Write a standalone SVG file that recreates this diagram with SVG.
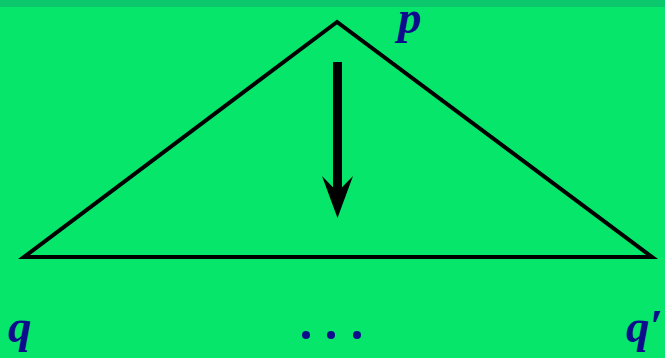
<svg xmlns="http://www.w3.org/2000/svg" width="665" height="358" viewBox="0 0 665 358">
<style>
.lbl{font-family:"Liberation Serif","DejaVu Serif",serif;font-style:italic;font-weight:bold;font-size:47px;fill:#0c0c8c}
.edge{fill:none;stroke:#000;stroke-width:4}
</style>
<rect x="0" y="0" width="665" height="358" fill="#05e66b"/>
<rect x="0" y="0" width="665" height="7" fill="#0cc86c"/>
<g id="triangle">
<polygon class="edge" points="337,22 24,257 652,257"/>
</g>
<g id="connectors">
<rect x="333" y="62" width="9" height="130" fill="#000"/>
<polygon points="322,176 337.5,192 353,176 337.5,218" fill="#000"/>
</g>
<g id="node-p"><text class="lbl" x="398" y="33">p</text></g>
<g id="node-q"><text class="lbl" x="8" y="342">q</text></g>
<g id="node-dots">
<circle cx="306" cy="335" r="4" fill="#0c0c8c"/>
<circle cx="331" cy="335" r="4" fill="#0c0c8c"/>
<circle cx="357" cy="335" r="4" fill="#0c0c8c"/>
</g>
<g id="node-q2"><text class="lbl" x="626" y="342">q′</text></g>
</svg>
